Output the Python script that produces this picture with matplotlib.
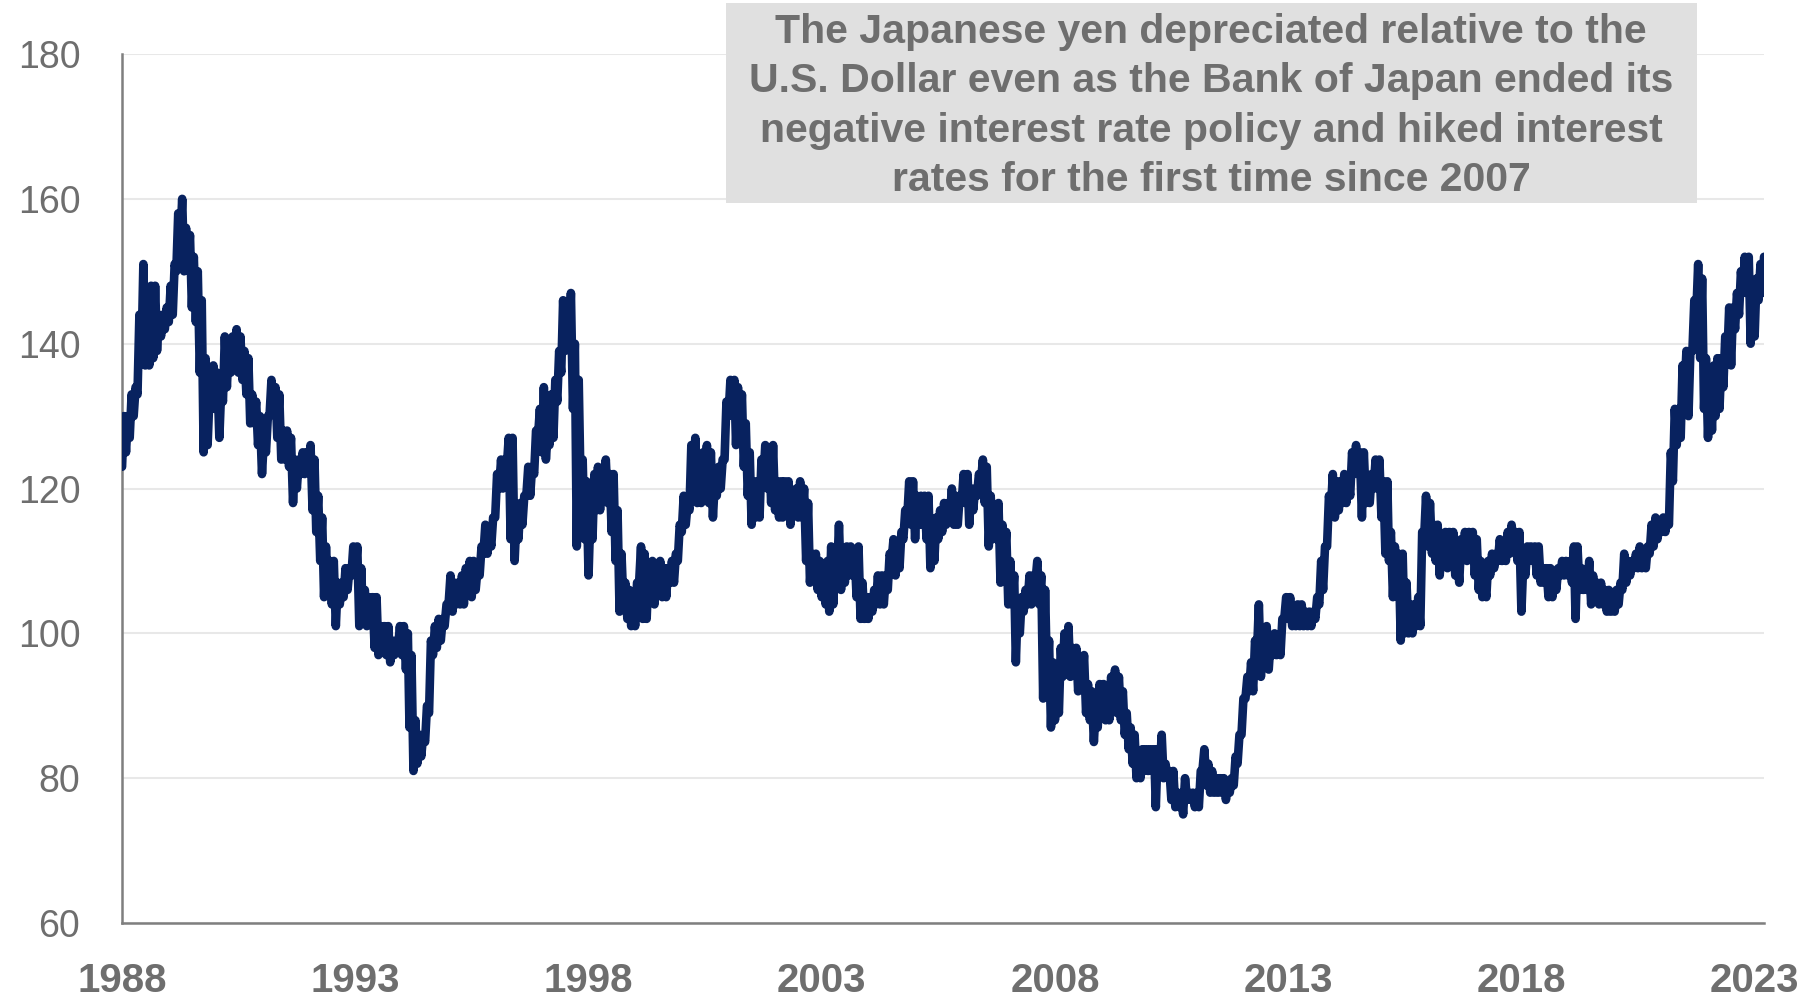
from __future__ import annotations

import matplotlib

matplotlib.use("Agg")
import matplotlib.dates as mdates
import matplotlib.pyplot as plt
import pandas as pd
from matplotlib.patches import Rectangle


# monthly high / low of USD/JPY (axis years as labelled)
USDJPY_HIGH = [
    130, 130, 133, 134, 144, 151, 145, 148, 148, 144, 144, 145,  # 1988
    148, 151, 158, 160, 156, 155, 152, 150, 146, 138, 133, 137,  # 1989
    136, 134, 141, 140, 141, 142, 141, 139, 138, 133, 132, 130,  # 1990
    127, 130, 135, 134, 133, 128, 128, 127, 124, 124, 125, 125,  # 1991
    126, 124, 119, 116, 112, 110, 110, 107, 107, 109, 109, 112,  # 1992
    112, 109, 106, 105, 105, 105, 101, 101, 101, 99, 99, 101,  # 1993
    101, 100, 97, 88, 86, 86, 90, 99, 101, 102, 102, 104,  # 1994
    108, 107, 107, 108, 109, 110, 110, 109, 112, 115, 114, 116,  # 1995
    122, 124, 124, 127, 127, 116, 118, 119, 123, 123, 128, 131,  # 1996
    134, 128, 133, 135, 139, 146, 145, 147, 140, 135, 124, 121,  # 1997
    117, 122, 123, 121, 124, 122, 122, 117, 111, 107, 106, 104,  # 1998
    107, 112, 111, 109, 110, 108, 110, 109, 109, 110, 111, 115,  # 1999
    119, 118, 126, 127, 123, 125, 126, 125, 121, 123, 124, 132,  # 2000
    135, 135, 134, 133, 129, 125, 121, 121, 124, 126, 125, 126,  # 2001
    121, 121, 121, 121, 119, 120, 121, 120, 118, 111, 111, 110,  # 2002
    108, 110, 112, 110, 115, 111, 112, 112, 111, 112, 107, 105,  # 2003
    105, 106, 108, 108, 108, 111, 113, 112, 114, 117, 121, 121,  # 2004
    119, 119, 119, 119, 114, 116, 117, 118, 118, 120, 119, 119,  # 2005
    122, 122, 120, 120, 122, 124, 123, 119, 117, 118, 115, 114,  # 2006
    110, 108, 104, 105, 106, 108, 108, 110, 108, 106, 99, 96,  # 2007
    92, 98, 100, 101, 98, 98, 96, 97, 93, 92, 90, 93,  # 2008
    93, 92, 94, 95, 94, 92, 89, 87, 86, 82, 84, 84,  # 2009
    84, 84, 84, 86, 82, 81, 81, 78, 78, 80, 78, 78,  # 2010
    78, 81, 84, 82, 81, 80, 80, 80, 79, 80, 83, 86,  # 2011
    91, 94, 96, 99, 104, 100, 101, 99, 100, 99, 102, 105,  # 2012
    105, 103, 104, 104, 103, 103, 103, 105, 110, 112, 119, 122,  # 2013
    121, 121, 122, 121, 125, 126, 125, 125, 121, 122, 124, 124,  # 2014
    121, 121, 114, 112, 111, 111, 107, 104, 104, 105, 114, 119,  # 2015
    118, 115, 115, 112, 114, 114, 114, 111, 113, 114, 114, 114,  # 2016
    113, 110, 107, 110, 111, 111, 113, 112, 114, 115, 114, 114,  # 2017
    110, 112, 112, 112, 112, 109, 109, 109, 108, 109, 110, 110,  # 2018
    110, 112, 112, 109, 108, 110, 108, 107, 107, 106, 106, 105,  # 2019
    106, 107, 111, 110, 110, 111, 112, 111, 112, 115, 116, 115,  # 2020
    116, 116, 125, 131, 131, 137, 139, 139, 146, 151, 149, 138,  # 2021
    135, 137, 138, 138, 141, 145, 145, 147, 150, 152, 152, 148,  # 2022
    149, 151, 152,  # 2023
]

USDJPY_LOW = [
    123, 125, 127, 130, 133, 138, 137, 137, 138, 139, 141, 142,  # 1988
    143, 144, 150, 154, 150, 151, 145, 143, 136, 125, 126, 131,  # 1989
    131, 127, 132, 134, 136, 137, 136, 135, 133, 129, 129, 126,  # 1990
    122, 125, 130, 131, 127, 124, 124, 123, 118, 120, 122, 122,  # 1991
    123, 117, 114, 110, 105, 106, 104, 101, 104, 105, 106, 108,  # 1992
    108, 101, 102, 101, 103, 98, 97, 98, 97, 96, 97, 98,  # 1993
    97, 95, 87, 81, 82, 83, 85, 89, 97, 98, 99, 101,  # 1994
    104, 103, 104, 104, 104, 107, 105, 106, 108, 111, 111, 112,  # 1995
    116, 120, 120, 123, 113, 110, 113, 115, 119, 119, 122, 127,  # 1996
    125, 124, 126, 127, 132, 136, 139, 140, 131, 112, 119, 113,  # 1997
    108, 113, 117, 117, 120, 118, 114, 110, 103, 104, 102, 101,  # 1998
    101, 107, 102, 102, 105, 104, 106, 105, 105, 107, 107, 110,  # 1999
    114, 115, 117, 121, 118, 118, 123, 118, 116, 119, 120, 124,  # 2000
    130, 131, 126, 127, 123, 119, 115, 116, 116, 121, 120, 118,  # 2001
    117, 116, 116, 117, 115, 117, 116, 116, 110, 107, 108, 106,  # 2002
    105, 104, 103, 104, 108, 106, 107, 108, 108, 105, 102, 102,  # 2003
    102, 103, 104, 104, 104, 106, 110, 108, 109, 113, 116, 115,  # 2004
    113, 115, 115, 113, 109, 110, 113, 114, 115, 116, 115, 115,  # 2005
    118, 118, 115, 117, 119, 121, 118, 112, 113, 113, 107, 110,  # 2006
    104, 104, 96, 100, 103, 104, 104, 107, 104, 91, 93, 87,  # 2007
    88, 89, 94, 96, 94, 95, 92, 93, 89, 88, 85, 87,  # 2008
    89, 88, 88, 92, 89, 88, 86, 84, 82, 80, 80, 81,  # 2009
    81, 81, 76, 81, 80, 80, 77, 76, 76, 75, 77, 77,  # 2010
    76, 76, 81, 79, 78, 78, 78, 78, 77, 78, 79, 82,  # 2011
    86, 91, 92, 92, 97, 94, 97, 95, 97, 97, 97, 102,  # 2012
    102, 101, 101, 101, 101, 101, 101, 102, 104, 106, 112, 117,  # 2013
    116, 117, 118, 118, 119, 122, 122, 116, 118, 118, 120, 120,  # 2014
    116, 111, 110, 105, 106, 99, 100, 100, 100, 101, 101, 113,  # 2015
    112, 111, 110, 108, 110, 109, 110, 108, 107, 111, 110, 111,  # 2016
    108, 106, 105, 105, 108, 109, 110, 110, 110, 111, 112, 110,  # 2017
    103, 108, 110, 110, 108, 107, 107, 105, 105, 106, 108, 108,  # 2018
    108, 107, 102, 106, 106, 106, 104, 105, 104, 104, 103, 103,  # 2019
    103, 104, 106, 107, 108, 109, 109, 109, 109, 111, 112, 113,  # 2020
    114, 114, 115, 121, 126, 127, 133, 130, 139, 144, 138, 131,  # 2021
    127, 128, 130, 131, 134, 138, 137, 142, 144, 147, 147, 140,  # 2022
    141, 146, 147,  # 2023
]

Y_TICKS = [60, 80, 100, 120, 140, 160, 180]
X_TICK_YEARS = [1988, 1993, 1998, 2003, 2008, 2013, 2018, 2023]

NOTE = (
    "The Japanese yen depreciated relative to the\n"
    "U.S. Dollar even as the Bank of Japan ended its\n"
    "negative interest rate policy and hiked interest\n"
    "rates for the first time since 2007"
)

LINE_COLOR = "#08225f"
TEXT_GRAY = "#6e6e6e"


def build_series() -> pd.Series:
    months = pd.date_range("1988-01-01", periods=len(USDJPY_HIGH), freq="MS")
    points = {}
    for month, low, high in zip(months, USDJPY_LOW, USDJPY_HIGH):
        points[month] = low
        points[month + pd.Timedelta(days=15)] = high
    return pd.Series(points)


def main() -> None:
    plt.rcParams["font.family"] = ["Liberation Sans", "DejaVu Sans"]

    series = build_series()

    fig = plt.figure(figsize=(18.16, 9.97), dpi=100)
    ax = fig.add_axes([0.0672, 0.0742, 0.9042, 0.8716])

    ax.plot(series.index, series.values, color=LINE_COLOR, lw=6.2,
            solid_joinstyle="round", solid_capstyle="round", zorder=3)

    ax.set_ylim(60, 180)
    ax.set_yticks(Y_TICKS)
    ax.set_xlim(pd.Timestamp("1988-01-01"), series.index[-1])
    ax.set_xticks([pd.Timestamp(f"{y}-01-01") for y in X_TICK_YEARS])
    ax.xaxis.set_major_formatter(mdates.DateFormatter("%Y"))

    ax.grid(axis="y", color="#e8e8e8", lw=1.5, zorder=0)
    for side in ("top", "right"):
        ax.spines[side].set_visible(False)
    for side in ("left", "bottom"):
        ax.spines[side].set_color("#7f7f7f")
        ax.spines[side].set_linewidth(1.8)

    ax.tick_params(axis="y", length=0, pad=30, labelsize=27, labelcolor=TEXT_GRAY)
    ax.tick_params(axis="x", length=0, pad=28, labelsize=29, labelcolor=TEXT_GRAY)
    for label in ax.get_xticklabels():
        label.set_fontweight("bold")

    box = Rectangle((726 / 1816, 1 - 203 / 997), 971 / 1816, 200 / 997,
                    transform=fig.transFigure, facecolor="#e0e0e0",
                    edgecolor="none", zorder=4)
    fig.patches.append(box)
    fig.text(1211 / 1816, 1 - 106 / 997, NOTE, ha="center", va="center",
             fontsize=29.5, fontweight="bold", color=TEXT_GRAY,
             linespacing=1.38, zorder=5)

    fig.savefig("out.png", dpi=100)
    plt.close(fig)


if __name__ == "__main__":
    main()
